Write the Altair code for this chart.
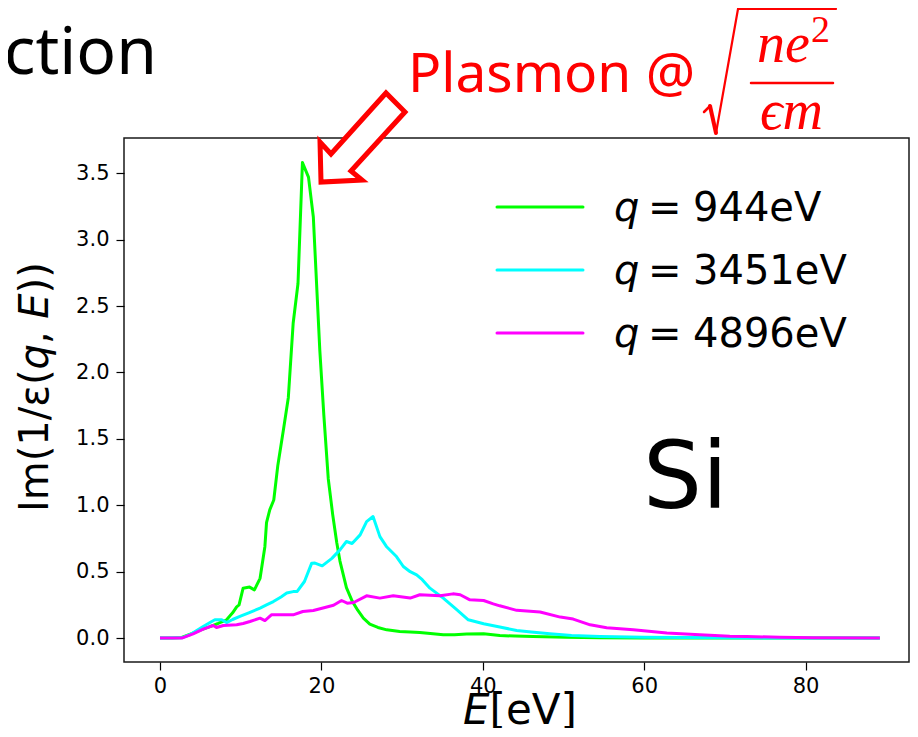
import altair as alt
import pandas as pd

# ---------------- data ----------------
E_944 = [0, 1.5, 2.7, 4.0, 5.0, 6.2, 7.2, 8.2, 9.0, 9.5, 9.8, 10.3, 11.1, 11.7, 12.4,
         13.0, 13.2, 13.6, 14.1, 14.6, 15.3, 15.9, 16.5, 17.1, 17.65, 18.4, 19.0, 19.8,
         20.3, 20.85, 21.4, 21.9, 22.3, 23.1, 23.8, 24.5, 25.2, 26.0, 27.0, 28.1, 29.7,
         31.0, 32.2, 33.5, 35.1, 36.5, 38.0, 40.1, 42.1, 44.0, 46.2, 50.3, 54.5, 60.0,
         70.0, 80.0, 89.2]
V_944 = [0, 0, 0.005, 0.035, 0.06, 0.087, 0.11, 0.135, 0.19, 0.235, 0.25, 0.376, 0.384,
         0.363, 0.45, 0.69, 0.87, 0.965, 1.04, 1.30, 1.57, 1.81, 2.37, 2.67, 3.58, 3.47,
         3.17, 2.17, 1.68, 1.20, 0.93, 0.72, 0.58, 0.38, 0.28, 0.21, 0.15, 0.105, 0.08,
         0.062, 0.05, 0.045, 0.042, 0.035, 0.025, 0.025, 0.03, 0.032, 0.02, 0.015, 0.012,
         0.006, 0.002, 0.001, 0.001, 0.0, 0.0]

E_3451 = [0, 2.7, 3.7, 4.5, 5.35, 6.2, 6.8, 7.65, 8.25, 9.0, 9.9, 11.0, 12.4, 13.2, 14.05,
          15.0, 15.7, 16.5, 17.0, 17.9, 18.8, 19.2, 20.1, 21.3, 22.3, 23.1, 23.8, 24.8,
          25.6, 26.4, 27.25, 28.05, 29.3, 30.15, 31.0, 31.8, 32.5, 33.45, 35.1, 36.8, 38.2,
          40.1, 42.1, 44.2, 46.0, 48.3, 51.0, 54.5, 60.0, 70.0, 80.0, 89.2]
V_3451 = [0, 0.002, 0.025, 0.055, 0.087, 0.117, 0.138, 0.138, 0.117, 0.14, 0.163, 0.19,
          0.226, 0.25, 0.275, 0.31, 0.339, 0.35, 0.351, 0.426, 0.564, 0.565, 0.544, 0.60,
          0.664, 0.727, 0.712, 0.777, 0.877, 0.915, 0.764, 0.69, 0.614, 0.539, 0.50, 0.476,
          0.44, 0.376, 0.301, 0.213, 0.138, 0.108, 0.083, 0.057, 0.045, 0.032, 0.02, 0.012,
          0.006, 0.002, 0.0, 0.0]

E_4896 = [0, 2.7, 4.1, 5.35, 6.2, 6.6, 7.0, 7.85, 9.5, 10.3, 11.15, 12.4, 13.0, 13.8, 15.3,
          16.5, 17.7, 19.0, 20.2, 21.5, 22.5, 23.2, 24.0, 25.6, 27.25, 28.9, 31.0, 32.2,
          34.7, 36.3, 37.2, 38.4, 40.1, 41.3, 42.1, 44.2, 47.1, 49.6, 51.2, 53.3, 55.35,
          58.65, 62.8, 66.9, 70.6, 72.7, 76.8, 81.0, 89.2]
V_4896 = [0, 0, 0.032, 0.068, 0.087, 0.095, 0.08, 0.095, 0.10, 0.11, 0.125, 0.15, 0.132,
          0.175, 0.175, 0.175, 0.20, 0.208, 0.226, 0.247, 0.283, 0.263, 0.268, 0.318, 0.301,
          0.318, 0.301, 0.326, 0.318, 0.333, 0.326, 0.288, 0.283, 0.258, 0.243, 0.209,
          0.196, 0.158, 0.143, 0.10, 0.078, 0.062, 0.038, 0.025, 0.014, 0.012, 0.006,
          0.002, 0.0]

SERIES_LABELS = ["944eV", "3451eV", "4896eV"]
SERIES_COLORS = ["#00ff00", "#00ffff", "#ff00ff"]
X_TICKS = [0, 20, 40, 60, 80]
Y_TICKS = [0.0, 0.5, 1.0, 1.5, 2.0, 2.5, 3.0, 3.5]

# ---------------- layout ----------------
W, H = 785, 524
x_scale = alt.Scale(domain=[-4.46, 92.81], nice=False, zero=False)
y_scale = alt.Scale(domain=[-0.18, 3.765], nice=False, zero=False)
x_axis = alt.Axis(values=X_TICKS, title=None, labelPadding=5)
y_axis = alt.Axis(values=Y_TICKS, format=".1f", title=None, labelPadding=7)

one = pd.DataFrame({"a": [0]})
layers = []

for E, V, col in zip([E_944, E_3451, E_4896], [V_944, V_3451, V_4896], SERIES_COLORS):
    df = pd.DataFrame({"E": E, "v": V})
    layers.append(
        alt.Chart(df).mark_line(color=col, strokeWidth=3, strokeJoin="round").encode(
            x=alt.X("E:Q", scale=x_scale, axis=x_axis),
            y=alt.Y("v:Q", scale=y_scale, axis=y_axis),
        )
    )


def txt(s, x, y, size, font="DejaVu Sans", color="black", italic=False, align="left",
        angle=0, baseline="alphabetic"):
    kw = dict(text=s, fontSize=size, font=font, color=color, align=align,
              baseline=baseline)
    if italic:
        kw["fontStyle"] = "italic"
    if angle:
        kw["angle"] = angle
    return alt.Chart(one).mark_text(**kw).encode(x=alt.value(x), y=alt.value(y))


def seg(x1, y1, x2, y2, width, color="red"):
    return alt.Chart(one).mark_rule(color=color, strokeWidth=width, strokeCap="round").encode(
        x=alt.value(x1), y=alt.value(y1), x2=alt.value(x2), y2=alt.value(y2))


# legend (inside plot, upper right)
for i, (lab, col) in enumerate(zip(SERIES_LABELS, SERIES_COLORS)):
    ly = 69 + 63 * i
    layers.append(seg(373, ly, 459, ly, 3, color=col))
    layers.append(txt("q", 490, ly + 14, 40, italic=True))
    layers.append(txt("=", 524, ly + 14, 40))
    layers.append(txt(lab, 569, ly + 14, 40))

# "Si"
layers.append(txt("Si", 519, 370, 93))

# y-axis title pieces (rotated): Im(1/ε(q, E))
yx = -76
pieces = [("Im(1/ε(", False, 374), ("q", True, 231.5), (", ", False, 206.1),
          ("E", True, 180.7), ("))", False, 155.4)]
for s, it, yy in pieces:
    layers.append(txt(s, yx, yy, 40, italic=it, angle=270))

# x-axis title: E[eV]
layers.append(txt("E", 339, 586, 42, italic=True))
layers.append(txt("[eV]", 365.5, 586, 42))

# slide text outside the plot
layers.append(txt("function", 33, -64, 66, font="Noto Sans", align="right"))
layers.append(txt("Plasmon @", 284, -46, 55, font="Noto Sans", color="#ff0000"))

# formula sqrt(n e^2 / (ϵ m))
serif = "Liberation Serif"
layers.append(seg(580, -26, 586, -32, 2.5))
layers.append(seg(586, -32, 592, -5, 4))
layers.append(seg(592, -5, 614, -129, 2.2))
layers.append(seg(614, -129, 712, -129, 2.2))
layers.append(txt("ne", 633, -76, 56, font=serif, color="#ff0000", italic=True))
layers.append(txt("2", 687, -96, 38, font=serif, color="#ff0000"))
layers.append(seg(627, -55, 709, -55, 2.5))
layers.append(txt("ϵm", 636, -9, 56, font=serif, color="#ff0000", italic=True))

# block arrow (outlined, white fill) pointing at the plasmon peak
arrow_path = ("M -0.922 0.989 L -0.944 0.1 L -0.7 0.367 L 0.522 -0.989 "
              "L 0.944 -0.567 L -0.256 0.744 L -0.011 0.944 Z")
layers.append(
    alt.Chart(one).mark_point(shape=arrow_path, size=8100, filled=False, fill="white",
                              fillOpacity=1, stroke="#ff0000", strokeWidth=5,
                              strokeJoin="miter", opacity=1).encode(
        x=alt.value(238.5), y=alt.value(-0.5))
)

chart = alt.layer(*layers).properties(
    width=W, height=H,
    padding={"left": 116, "top": 130, "right": 1, "bottom": 66},
    autosize="none",
    background="white",
).configure_view(
    stroke="#1a1a1a", strokeWidth=1.5
).configure_axis(
    labelFont="DejaVu Sans", labelFontSize=21, labelColor="black",
    tickColor="black", tickWidth=1.2, tickSize=8, domain=False, grid=False,
)

chart.save("out.html", embed_options={"renderer": "svg", "actions": False})
